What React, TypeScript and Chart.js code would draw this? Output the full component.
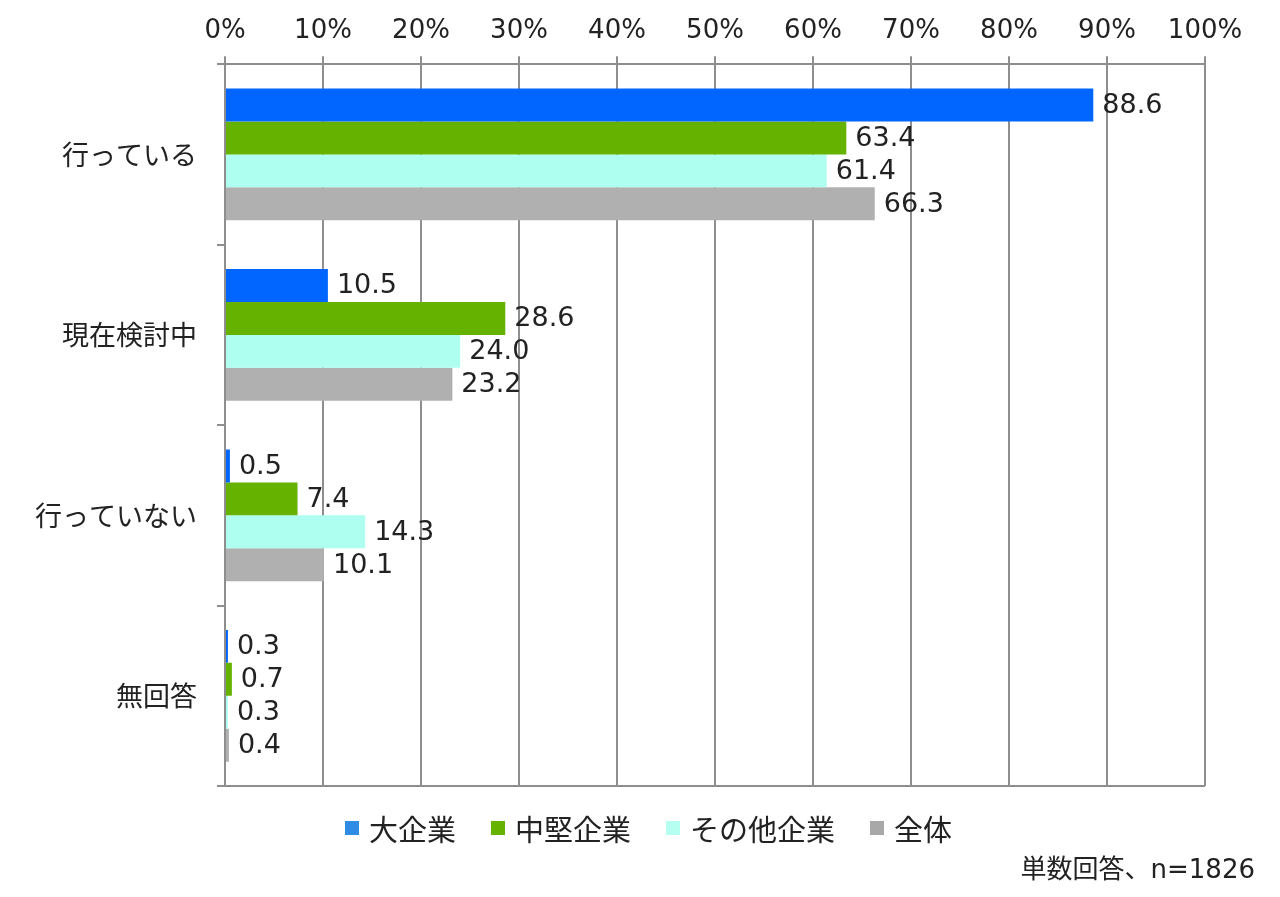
import { useEffect, useRef } from 'react';
import { Chart, registerables } from 'chart.js';

Chart.register(...registerables);

const categories = ['行っている', '現在検討中', '行っていない', '無回答'];
const seriesNames = ['大企業', '中堅企業', 'その他企業', '全体'];
const large = [88.6, 10.5, 0.5, 0.3];
const midsize = [63.4, 28.6, 7.4, 0.7];
const others = [61.4, 24.0, 14.3, 0.3];
const total = [66.3, 23.2, 10.1, 0.4];
const xTicks = [0, 10, 20, 30, 40, 50, 60, 70, 80, 90, 100];
const note = '単数回答、n=1826';

const barColors = ['#0066FF', '#66B200', '#AEFFEF', '#B0B0B0'];
const legendColors = ['#2E8BE6', '#66B200', '#B4FFF0', '#A8A8A8'];
const FONT = '"Noto Sans CJK JP", "Noto Sans", sans-serif';
const NUM_FONT = '"DejaVu Sans", "Noto Sans CJK JP", sans-serif';
const GRID = '#8E8E8E';

// value labels to the right of each bar
const valueLabels = {
  id: 'valueLabels',
  afterDatasetsDraw(chart: Chart) {
    const { ctx } = chart;
    ctx.save();
    ctx.font = `27px ${NUM_FONT}`;
    ctx.fillStyle = '#222';
    ctx.textBaseline = 'middle';
    ctx.textAlign = 'left';
    chart.data.datasets.forEach((ds, i) => {
      chart.getDatasetMeta(i).data.forEach((bar: any, j) => {
        const v = ds.data[j] as number;
        ctx.fillText(v.toFixed(1), bar.x + 9, bar.y + 1);
      });
    });
    ctx.restore();
  },
};

// bottom frame line of the plot
const bottomLine = {
  id: 'bottomLine',
  afterDraw(chart: Chart) {
    const { ctx, chartArea } = chart;
    ctx.save();
    ctx.strokeStyle = GRID;
    ctx.lineWidth = 2;
    ctx.beginPath();
    ctx.moveTo(chartArea.left - 8, chartArea.bottom);
    ctx.lineTo(chartArea.right, chartArea.bottom);
    ctx.stroke();
    ctx.restore();
  },
};

export default function App() {
  const canvasRef = useRef<HTMLCanvasElement>(null);
  const chart = useRef<Chart | null>(null);

  useEffect(() => {
    if (!canvasRef.current) return;
    chart.current?.destroy();

    const series = [large, midsize, others, total];

    chart.current = new Chart(canvasRef.current, {
      type: 'bar',
      data: {
        labels: categories,
        datasets: series.map((d, i) => ({
          label: seriesNames[i],
          data: d,
          backgroundColor: barColors[i],
          borderWidth: 0,
          barPercentage: 1,
          categoryPercentage: 0.73,
        })),
      },
      options: {
        indexAxis: 'y',
        animation: false,
        responsive: true,
        maintainAspectRatio: false,
        layout: { padding: { top: 7, right: 75, left: 15, bottom: 111 } },
        plugins: {
          tooltip: { enabled: false },
          legend: { display: false },
        },
        scales: {
          x: {
            position: 'top',
            min: 0,
            max: 100,
            afterBuildTicks: (axis: any) => {
              axis.ticks = xTicks.map(v => ({ value: v }));
            },
            ticks: {
              callback: (v: any) => `${v}%`,
              font: { family: NUM_FONT, size: 26 },
              color: '#222',
              padding: 9,
            },
            grid: { color: GRID, lineWidth: 2, tickLength: 8 },
            border: { color: GRID, width: 2 },
          },
          y: {
            ticks: {
              font: { family: FONT, size: 27 },
              color: '#222',
              padding: 20,
            },
            grid: { drawOnChartArea: false, color: GRID, lineWidth: 2, tickLength: 8, offset: true },
            border: { color: GRID, width: 2 },
          },
        },
      },
      plugins: [valueLabels, bottomLine],
    });

    return () => { chart.current?.destroy(); };
  }, []);

  return (
    <div style={{ position: 'fixed', left: 0, top: 0, width: 1280, height: 897, background: '#fff' }}>
      <canvas ref={canvasRef} />
      <div
        style={{
          position: 'absolute', left: 345, top: 808, height: 40, display: 'flex', gap: 35,
          alignItems: 'center', fontFamily: FONT, fontSize: 29, lineHeight: '40px', color: '#222',
          whiteSpace: 'nowrap',
        }}
      >
        {seriesNames.map((n, i) => (
          <div key={n} style={{ display: 'flex', alignItems: 'center' }}>
            <span style={{ width: 14, height: 14, background: legendColors[i], marginRight: 10, display: 'inline-block' }} />
            {n}
          </div>
        ))}
      </div>
      <div
        style={{
          position: 'absolute', right: 25, top: 852, fontFamily: NUM_FONT, fontSize: 26,
          lineHeight: '34px', color: '#222', whiteSpace: 'nowrap',
        }}
      >
        {note}
      </div>
    </div>
  );
}
